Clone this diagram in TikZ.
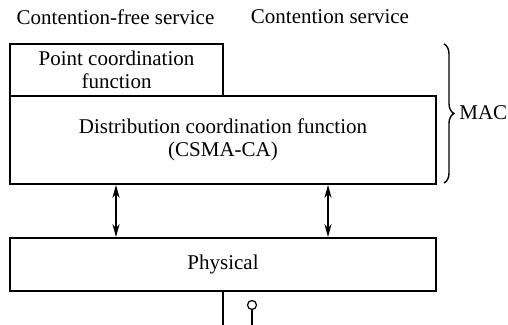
\documentclass[tikz,border=0pt]{standalone}
\usepackage{fontspec}
\setmainfont{Liberation Serif}
\usetikzlibrary{arrows.meta,decorations.pathreplacing}
\begin{document}
\begin{tikzpicture}[x=0.5pt,y=-0.5pt,
  layer/.style={draw,line width=1pt,rectangle,inner sep=0pt,align=center,font=\fontsize{10.5}{11.2}\selectfont},
  lbl/.style={inner sep=0pt,font=\fontsize{10.5}{11.2}\selectfont},
  link/.style={line width=0.8pt,{Stealth[length=6.5pt,width=3.6pt]}-{Stealth[length=6.5pt,width=3.6pt]}},
  wire/.style={line width=0.9pt}]
\useasboundingbox (0,0) rectangle (508,325);
% service labels
\node[lbl] (cfs) at (115.5,17) {Contention-free service};
\node[lbl] (cs) at (330,17) {Contention service};
% MAC sublayer functions
\node[layer,minimum width=106.5pt,minimum height=26pt] (pcf) at (116.5,70) {Point coordination\\function};
\node[layer,minimum width=213pt,minimum height=44pt] (dcf) at (223,140) {Distribution coordination function\\(CSMA-CA)};
% physical layer
\node[layer,minimum width=213pt,minimum height=26.5pt] (phy) at (223,264.5) {Physical};
% brace grouping the MAC functions
\coordinate (btop) at (444,44);
\coordinate (bbot) at (444,183);
\draw[line width=0.7pt,decorate,decoration={brace,amplitude=5pt}] (btop) -- (bbot);
\node[lbl,anchor=west] (mac) at (459,113) {MAC};
% service access between the layers
\coordinate (x1) at (116,0);
\coordinate (x2) at (328,0);
\draw[link] (dcf.south -| x1) -- (phy.north -| x1);
\draw[link] (dcf.south -| x2) -- (phy.north -| x2);
% medium attachment and antenna
\coordinate (medium) at (223,325);
\draw[wire] (phy.south) -- (medium);
\coordinate (ant) at (252,305);
\coordinate (antbase) at (252,325);
\draw[line width=0.6pt] (ant) circle[radius=4.5];
\draw[line width=0.9pt] ([yshift=-4.5*0.5pt]ant) -- (antbase);
\end{tikzpicture}
\end{document}
